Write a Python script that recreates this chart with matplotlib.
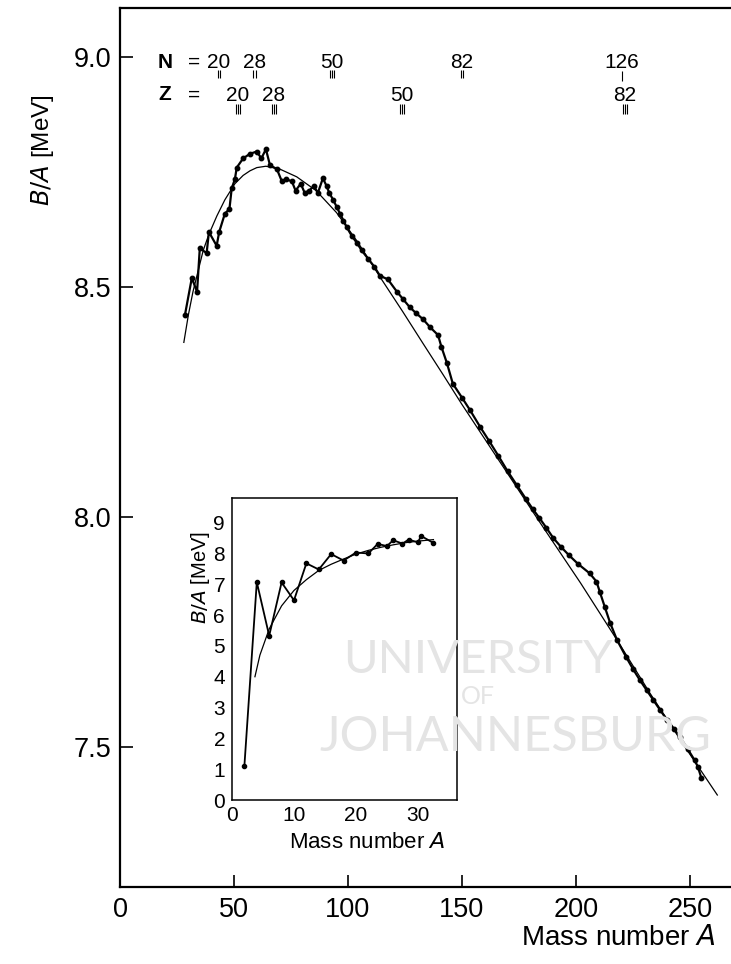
import matplotlib
matplotlib.use("Agg")
import matplotlib.pyplot as plt

plt.rcParams['font.family'] = ['Liberation Sans', 'DejaVu Sans']

# ---------------- data ----------------
# main panel: measured B/A (MeV) vs mass number A
A_data = [28.5, 31.5, 33.8, 35, 38, 39, 42.4, 43.5, 46, 48, 49, 50.4, 51.2, 54, 57,
          60, 62, 64, 65.8, 68.8, 71, 72.8, 75.4, 77, 79.3, 81, 83, 85, 86.8, 89,
          90.6, 91.8, 93.5, 95, 96.5, 98, 99.5, 101.6, 103.8, 106, 108.8, 111.5,
          114, 117.5, 121.5, 124, 127, 130, 133, 136, 139.5, 141, 143.4, 146, 150,
          153.5, 158, 162, 166, 170, 174, 178, 181, 184, 187, 190, 193.5, 197, 201,
          206, 209, 210.5, 212.7, 215, 218, 222, 225, 228, 231, 234, 237, 240, 243,
          245.6, 249, 252, 253.5, 255]
BA_data = [8.44, 8.52, 8.49, 8.585, 8.574, 8.62, 8.59, 8.62, 8.66, 8.67, 8.715, 8.735,
           8.76, 8.78, 8.79, 8.795, 8.78, 8.80, 8.765, 8.757, 8.73, 8.735, 8.73, 8.71,
           8.725, 8.705, 8.71, 8.72, 8.705, 8.737, 8.72, 8.705, 8.69, 8.675, 8.66,
           8.645, 8.63, 8.612, 8.597, 8.58, 8.562, 8.545, 8.525, 8.517, 8.49, 8.475,
           8.457, 8.443, 8.43, 8.413, 8.396, 8.37, 8.335, 8.29, 8.26, 8.233, 8.196,
           8.165, 8.133, 8.10, 8.07, 8.04, 8.018, 7.998, 7.977, 7.955, 7.935, 7.917,
           7.898, 7.878, 7.86, 7.837, 7.804, 7.77, 7.733, 7.696, 7.67, 7.646, 7.624,
           7.602, 7.58, 7.559, 7.54, 7.522, 7.496, 7.472, 7.457, 7.433]

# main panel: smooth (mass formula) curve, read points
A_fit = [28, 30, 32, 34, 36.5, 39, 42.5, 46, 50.4, 54, 57, 60, 64, 70, 77.5, 86, 95,
         104, 109.6, 115, 124, 133, 141.7, 150, 158, 170, 184, 202, 218, 232.5,
         248.7, 262]
BA_fit = [8.38, 8.44, 8.49, 8.53, 8.58, 8.615, 8.655, 8.69, 8.725, 8.743, 8.753,
          8.76, 8.763, 8.757, 8.74, 8.71, 8.662, 8.60, 8.557, 8.515, 8.447, 8.377,
          8.31, 8.245, 8.185, 8.095, 7.99, 7.857, 7.733, 7.617, 7.494, 7.396]

# inset: light nuclei
A_inset = [2, 4, 6, 8, 10, 12, 14, 16, 18, 20, 22, 23.5, 25, 26, 27.5, 28.5, 30, 30.5, 32.5]
BA_inset = [1.11, 7.07, 5.33, 7.06, 6.48, 7.68, 7.48, 7.98, 7.77, 8.03, 8.00, 8.31,
            8.24, 8.43, 8.32, 8.45, 8.36, 8.57, 8.34]
A_inset_fit = [3.7, 4.5, 6, 8, 10, 12, 14, 16, 18, 20, 22, 24, 26, 28, 30, 32.5]
BA_inset_fit = [4.0, 4.7, 5.55, 6.3, 6.8, 7.15, 7.45, 7.65, 7.82, 7.98, 8.1, 8.2,
                8.28, 8.35, 8.4, 8.45]

# magic numbers
N_magic = ['20', '28', '50', '82', '126']
N_A = [43.4, 59, 93, 150, 220]
N_bars = [2, 2, 3, 2, 1]
Z_magic = ['20', '28', '50', '82']
Z_A = [51.8, 67.5, 123.7, 221.5]
Z_bars = [3, 3, 3, 3]

x_ticks = [0, 50, 100, 150, 200, 250]
y_ticks = [7.5, 8.0, 8.5, 9.0]
inset_x_ticks = [0, 10, 20, 30]
inset_y_ticks = list(range(10))

# ---------------- figure ----------------
W, H = 731, 964
fig = plt.figure(figsize=(W / 100, H / 100), dpi=100)

def px(x0, y0, x1, y1):
    return [x0 / W, 1 - y1 / H, (x1 - x0) / W, (y1 - y0) / H]

ax = fig.add_axes(px(120, 8, 731, 887))
ax.set_xlim(0, 268)
ax.set_ylim(7.196, 9.107)
for s in ['left', 'bottom', 'top']:
    ax.spines[s].set_linewidth(1.6)
ax.spines['right'].set_visible(False)
ax.set_xticks(x_ticks)
ax.set_xticklabels([str(t) for t in x_ticks])
ax.set_yticks(y_ticks)
ax.set_yticklabels(['%.1f' % t for t in y_ticks])
ax.tick_params(direction='in', length=9, width=1.2, labelsize=19.5)
ax.tick_params(axis='x', pad=7)
ax.tick_params(axis='y', pad=6)

# watermark (faint)
wm = dict(color='#e4e4e4', family=['Lato', 'DejaVu Sans'], ha='center', va='center', zorder=0)
fig.text(478 / W, 1 - 660 / H, 'UNIVERSITY', fontsize=34, **wm)
fig.text(478 / W, 1 - 697 / H, 'OF', fontsize=18, **wm)
fig.text(515 / W, 1 - 737 / H, 'JOHANNESBURG', fontsize=35, **wm)
fig.add_artist(plt.Line2D([330 / W, 455 / W], [1 - 697 / H] * 2, color='#e4e4e4', lw=1.5, zorder=0))
fig.add_artist(plt.Line2D([502 / W, 625 / W], [1 - 697 / H] * 2, color='#e4e4e4', lw=1.5, zorder=0))

ax.plot(A_fit, BA_fit, color='black', lw=0.9, zorder=3)
ax.plot(A_data, BA_data, color='black', lw=1.6, marker='o', ms=3.2, zorder=4)

# magic-number annotations
def bars(a, n, y0, y1):
    offs = [(i - (n - 1) / 2) * 1.0 for i in range(n)]
    ax.vlines([a + o for o in offs], y0, y1, color='black', lw=0.8)

for lab, a, n in zip(N_magic, N_A, N_bars):
    ax.text(a, 8.989, lab, fontsize=15, ha='center', va='center')
    if n == 1:
        bars(a, n, 8.948, 8.970)
    else:
        bars(a, n, 8.955, 8.972)
for lab, a, n in zip(Z_magic, Z_A, Z_bars):
    ax.text(a, 8.917, lab, fontsize=15, ha='center', va='center')
    bars(a, n, 8.876, 8.898)
fig.text(165 / W, 1 - 62 / H, 'N', fontsize=15, fontweight='bold', ha='center', va='center')
fig.text(194 / W, 1 - 62 / H, '=', fontsize=15, ha='center', va='center')
fig.text(165 / W, 1 - 95 / H, 'Z', fontsize=15, fontweight='bold', ha='center', va='center')
fig.text(194 / W, 1 - 95 / H, '=', fontsize=15, ha='center', va='center')

fig.text(42 / W, 1 - 150 / H, r'$\mathit{B/A}$ [MeV]', rotation=90, fontsize=17.5,
         ha='center', va='center')
fig.text(716 / W, 1 - 938 / H, r'Mass number $\mathit{A}$', fontsize=20,
         ha='right', va='center')

# ---------------- inset ----------------
ins = fig.add_axes(px(232, 498, 457, 800))
ins.set_xlim(0, 36.3)
ins.set_ylim(0, 9.8)
for s in ins.spines.values():
    s.set_linewidth(1.1)
ins.set_xticks(inset_x_ticks)
ins.set_yticks(inset_y_ticks)
ins.tick_params(direction='in', length=0, labelsize=15)
ins.tick_params(axis='y', pad=5)
ins.tick_params(axis='x', pad=4)
ins.plot(A_inset_fit, BA_inset_fit, color='black', lw=0.9, zorder=3)
ins.plot(A_inset, BA_inset, color='black', lw=1.3, marker='o', ms=3, zorder=4)
fig.text(201 / W, 1 - 577 / H, r'$\mathit{B/A}$ [MeV]', rotation=90, fontsize=14.5,
         ha='center', va='center')
fig.text(367 / W, 1 - 842 / H, r'Mass number $\mathit{A}$', fontsize=16,
         ha='center', va='center')

fig.savefig('out.png', dpi=100)
